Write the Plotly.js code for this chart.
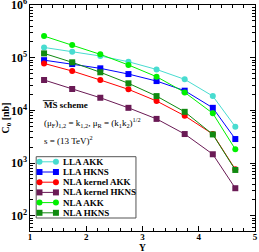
<!DOCTYPE html>
<html><head><meta charset="utf-8">
<script src="https://cdn.plot.ly/plotly-3.0.1.min.js"></script>
<style>html,body{margin:0;padding:0;background:#fff}#c{width:259px;height:252px}</style>
</head><body><div id="c"></div>
<script>
const Y = [1.25, 1.75, 2.25, 2.75, 3.25, 3.75, 4.25, 4.65];
const llaAKK = [1.57e5, 1.30e5, 1.08e5, 8.4e4, 6.0e4, 3.89e4, 1.87e4, 4.9e3];
const llaHKNS = [9.0e4, 7.6e4, 6.3e4, 4.9e4, 3.61e4, 2.37e4, 1.12e4, 2.86e3];
const nlaKernelAKK = [7.8e4, 5.6e4, 3.78e4, 2.51e4, 1.51e4, 7.9e3, 3.55e3, 760];
const nlaKernelHKNS = [3.78e4, 2.55e4, 1.74e4, 1.12e4, 6.9e3, 3.56e3, 1.47e3, 333];
const nlaAKK = [2.58e5, 1.74e5, 1.16e5, 7.3e4, 4.37e4, 2.2e4, 8.8e3, 1.83e3];
const nlaHKNS = [1.21e5, 8.2e4, 5.3e4, 3.27e4, 1.87e4, 9.4e3, 3.5e3, 740];
const names = ["LLA AKK", "LLA HKNS", "NLA kernel AKK", "NLA kernel HKNS", "NLA AKK", "NLA HKNS"];
const series = [llaAKK, llaHKNS, nlaKernelAKK, nlaKernelHKNS, nlaAKK, nlaHKNS];
const colors = ["#48DCD0", "#0000FF", "#FF0000", "#6A1A55", "#00F000", "#108A10"];
const symbols = ["circle", "square", "circle", "square", "circle", "square"];

const FONT = "Liberation Serif, Times New Roman, serif";
const W = 259, H = 252;
const plotBox = {l: 29.5, r: 255, t: 5, b: 231};
// custom legend geometry (in pixels of the page)
const leg = {x0: 35.7, x1: 135.7, y0: 156.7, y1: 218, first: 161.8, step: 10.2, s0: 39, s1: 55.5, tx: 60.5};

const traces = series.map((s, i) => ({
  x: Y, y: s, name: names[i], type: "scatter", mode: "lines+markers",
  line: {color: colors[i], width: 1},
  marker: {color: colors[i], symbol: symbols[i], size: 6},
  showlegend: false
}));
// legend glyphs: line with a marker at each end, on an overlay pixel axis
series.forEach((s, i) => {
  const yy = leg.first + i * leg.step;
  traces.push({
    x: [leg.s0, leg.s1], y: [yy, yy], xaxis: "x2", yaxis: "y2", type: "scatter", mode: "lines+markers",
    line: {color: colors[i], width: 1}, marker: {color: colors[i], symbol: symbols[i], size: 6},
    showlegend: false, hoverinfo: "skip"
  });
});

const axCommon = {
  showgrid: false, zeroline: false, showline: true, linecolor: "#000", linewidth: 1,
  mirror: "ticks", ticks: "inside", tickcolor: "#000", ticklen: 5, tickwidth: 1,
  ticklabeloverflow: "allow",
  tickfont: {family: FONT, size: 9.5, color: "#000", weight: "bold"}
};

const annotations = [
  {xref: "x2", yref: "y2", x: 42, y: 104.7, xanchor: "left", yanchor: "middle", showarrow: false,
   text: "MS scheme", font: {family: FONT, size: 9, color: "#000", weight: "bold"}},
  {xref: "x2", yref: "y2", x: 42, y: 122, xanchor: "left", yanchor: "middle", showarrow: false,
   text: "(μ<sub>F</sub>)<sub>1,2</sub> = k<sub>1,2</sub>, μ<sub>R</sub> = (k<sub>1</sub>k<sub>2</sub>)<sup>1/2</sup>", font: {family: FONT, size: 9, color: "#000"}},
  {xref: "x2", yref: "y2", x: 42, y: 139.7, xanchor: "left", yanchor: "middle", showarrow: false,
   text: "s = (13 TeV)<sup>2</sup>", font: {family: FONT, size: 9, color: "#000"}},
  {xref: "paper", yref: "paper", x: 0.5, y: (plotBox.b - 248.3) / (plotBox.b - plotBox.t), xanchor: "center", yanchor: "middle", showarrow: false,
   text: "Y", font: {family: FONT, size: 9.5, color: "#000", weight: "bold"}}
];
names.forEach((n, i) => annotations.push({
  xref: "x2", yref: "y2", x: leg.tx, y: leg.first + i * leg.step, xanchor: "left", yanchor: "middle",
  showarrow: false, text: n, font: {family: FONT, size: 9, color: "#000", weight: "bold"}
}));

const layout = {
  width: W, height: H,
  margin: {l: plotBox.l, r: W - plotBox.r, t: plotBox.t, b: H - plotBox.b},
  paper_bgcolor: "#fff", plot_bgcolor: "#fff",
  showlegend: false,
  xaxis: Object.assign({}, axCommon, {
    range: [1, 5], dtick: 1, tick0: 1, ticklabelstandoff: -3,
    tickfont: {family: FONT, size: 9, color: "#000", weight: "bold"},
    minor: {dtick: 0.2, ticks: "inside", ticklen: 3, tickcolor: "#000", showgrid: false}
  }),
  yaxis: Object.assign({}, axCommon, {
    type: "log", range: [1.71, 6.002], dtick: 1, exponentformat: "power",
    minor: {dtick: "D1", ticks: "inside", ticklen: 3, tickcolor: "#000", showgrid: false},
    title: {text: "C<sub>0</sub> [nb]", standoff: 4, font: {family: FONT, size: 10, color: "#000", weight: "bold"}}
  }),
  xaxis2: {overlaying: "x", anchor: "y2", range: [plotBox.l, plotBox.r], visible: false, fixedrange: true},
  yaxis2: {overlaying: "y", anchor: "x2", range: [plotBox.b, plotBox.t], visible: false, fixedrange: true},
  shapes: [
    {type: "rect", xref: "x2", yref: "y2", x0: leg.x0, x1: leg.x1, y0: leg.y0, y1: leg.y1,
     line: {color: "#555", width: 1}, fillcolor: "#fff", layer: "below"},
    {type: "line", xref: "x2", yref: "y2", x0: 42.3, x1: 53.6, y0: 100.6, y1: 100.6,
     line: {color: "#000", width: 0.8}}
  ],
  annotations: annotations
};
Plotly.newPlot("c", traces, layout, {displayModeBar: false, staticPlot: true});
</script></body></html>
